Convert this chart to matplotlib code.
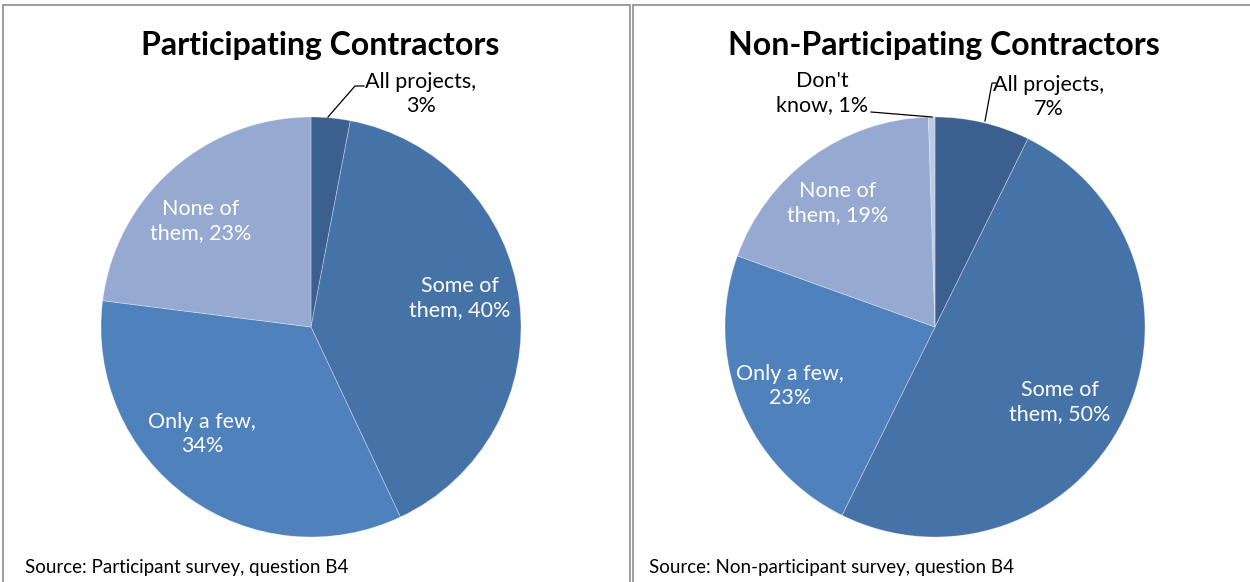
import matplotlib
matplotlib.use("Agg")
import matplotlib.pyplot as plt
from matplotlib.patches import Rectangle

plt.rcParams['font.family'] = ['Lato', 'DejaVu Sans']

# ---- data ----
titles = ["Participating Contractors", "Non-Participating Contractors"]
sources = ["Source: Participant survey, question B4",
           "Source: Non-participant survey, question B4"]

part_categories = ["All projects", "Some of them", "Only a few", "None of them"]
part_values = [3, 40, 34, 23]          # slice shares (%)
part_labels = [3, 40, 34, 23]          # percentages printed on labels

nonpart_categories = ["All projects", "Some of them", "Only a few", "None of them", "Don't know"]
nonpart_values = [7.3, 50.0, 23.2, 19.0, 0.5]   # slice shares as drawn (%)
nonpart_labels = [7, 50, 23, 19, 1]              # percentages printed on labels

label_text = {
    "All projects": "All projects,\n{}%",
    "Some of them": "Some of\nthem, {}%",
    "Only a few": "Only a few,\n{}%",
    "None of them": "None of\nthem, {}%",
    "Don't know": "Don't\nknow, {}%",
}
colors = {
    "All projects": "#3B5F8F",
    "Some of them": "#4572A7",
    "Only a few": "#4F81BD",
    "None of them": "#95A9D1",
    "Don't know": "#BCCAE3",
}

W, H = 1250, 582
fig = plt.figure(figsize=(12.5, 5.82), dpi=100)
fig.patch.set_facecolor("white")
ax = fig.add_axes([0, 0, 1, 1])

def Y(y):
    return H - y

R = 210
panels = [
    dict(cats=part_categories, vals=part_values, labs=part_labels, center=(311, Y(327)),
         title_x=320, src_x=25,
         lab={"All projects": (421, 94, "black"),
              "Some of them": (460, 298, "white"),
              "Only a few": (202, 434, "white"),
              "None of them": (201, 221, "white")},
         leaders=[[(328, 117), (355, 86), (364, 86)]]),
    dict(cats=nonpart_categories, vals=nonpart_values, labs=nonpart_labels, center=(935, Y(327)),
         title_x=944, src_x=649,
         lab={"All projects": (1049, 97, "black"),
              "Some of them": (1060, 402, "white"),
              "Only a few": (790, 386, "white"),
              "None of them": (838, 203, "white"),
              "Don't know": (822, 93, "black")},
         leaders=[[(985, 121), (992, 83), (996, 83)],
                  [(871, 112), (932, 117)]]),
]

for i, p in enumerate(panels):
    ax.pie(p["vals"], colors=[colors[c] for c in p["cats"]], startangle=90,
           counterclock=False, center=p["center"], radius=R, frame=True,
           wedgeprops=dict(edgecolor=(1, 1, 1, 0.35), linewidth=0.6))
    ax.text(p["title_x"], Y(45), titles[i], ha="center", va="center",
            fontsize=23, fontweight="bold", color="black")
    ax.text(p["src_x"], Y(567), sources[i], ha="left", va="center",
            fontsize=13.5, color="black")
    for c, v in zip(p["cats"], p["labs"]):
        x, y, col = p["lab"][c]
        ax.text(x, Y(y), label_text[c].format(v), ha="center", va="center",
                fontsize=15.5, color=col, linespacing=1.28)
    for ld in p["leaders"]:
        ax.plot([q[0] for q in ld], [Y(q[1]) for q in ld], color="black", lw=0.9)

# panel borders
ax.add_patch(Rectangle((3, -10), 627, Y(5) + 10, fill=False,
                       edgecolor="#8C8C8C", lw=1.2, zorder=5))
ax.add_patch(Rectangle((632.5, -10), 700, Y(5) + 10, fill=False,
                       edgecolor="#8C8C8C", lw=1.2, zorder=5))

ax.set_xlim(0, W)
ax.set_ylim(0, H)
ax.set_aspect("auto")
ax.axis("off")

fig.savefig("out.png", dpi=100, facecolor="white")
